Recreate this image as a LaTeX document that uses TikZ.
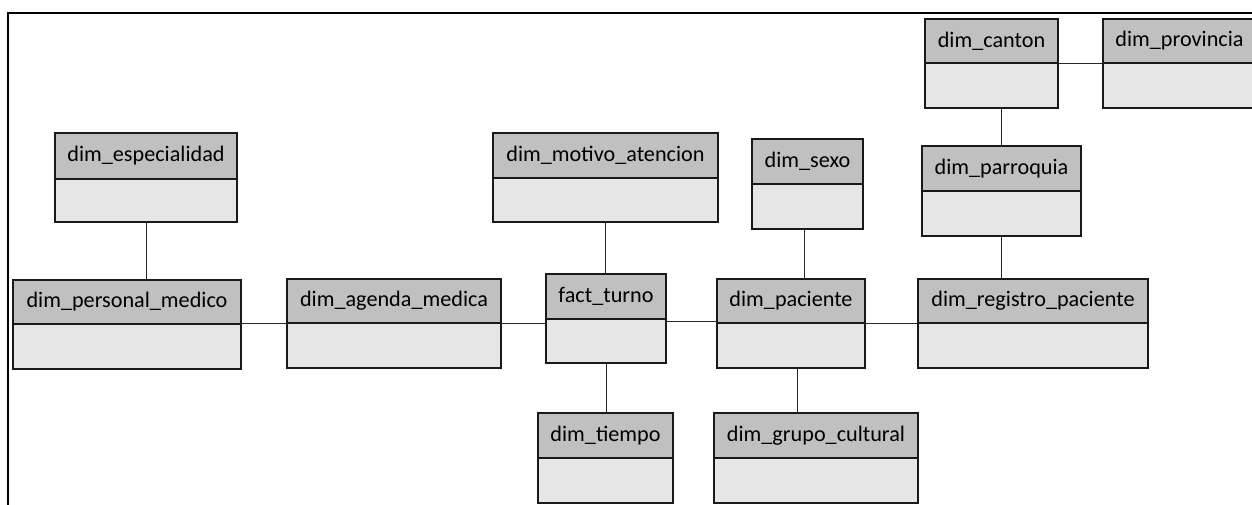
\documentclass[tikz,border=0pt]{standalone}
\usepackage{fontspec}
\setmainfont{Carlito}
\tikzset{
  hdr/.style={draw=black!90, line width=1.4pt, fill=hdrgray, inner sep=0pt, outer sep=0pt,
              font=\fontsize{22.2}{26}\selectfont},
  bdy/.style={draw=black!90, line width=1.4pt, fill=bodygray, inner sep=0pt, outer sep=0pt},
  link/.style={draw=black!85, line width=1pt},
  frame/.style={draw=black, line width=2pt}
}
\definecolor{hdrgray}{RGB}{192,192,192}
\definecolor{bodygray}{RGB}{230,230,230}
% \tablebox{name}{left}{top}{right}{header bottom}{bottom}{title}
\newcommand{\tablebox}[7]{%
  \node[hdr, anchor=north west, minimum width={(#4-#2)*1pt}, minimum height={(#5-#3)*1pt}] (#1H) at (#2,#3) {#7};
  \node[bdy, anchor=north west, minimum width={(#4-#2)*1pt}, minimum height={(#6-#5)*1pt}] (#1B) at (#2,#5) {};
}
\begin{document}
\begin{tikzpicture}[x=1pt,y=-1pt]
\useasboundingbox (0,0) rectangle (1252,504);
% outer frame (open to the right and bottom)
\draw[frame] (8,520) -- (8,13) -- (1270,13);

\tablebox{esp}{55}{133}{237}{179}{222}{dim\_especialidad}
\tablebox{pers}{13}{280}{241}{324}{369}{dim\_personal\_medico}
\tablebox{agenda}{287}{279}{501}{323}{368}{dim\_agenda\_medica}
\tablebox{motivo}{493}{133}{718}{178}{222}{dim\_motivo\_atencion}
\tablebox{fact}{546}{274}{666}{319}{363}{fact\_turno}
\tablebox{tiempo}{538}{413}{673}{458}{503}{dim\_tiempo}
\tablebox{pac}{717}{279}{865}{323}{368}{dim\_paciente}
\tablebox{grupo}{714}{413}{918}{458}{503}{dim\_grupo\_cultural}
\tablebox{sexo}{752}{139}{863}{184}{229}{dim\_sexo}
\tablebox{par}{922}{146}{1081}{191}{236}{dim\_parroquia}
\tablebox{reg}{918}{279}{1148}{323}{368}{dim\_registro\_paciente}
\tablebox{canton}{925}{19}{1058}{63}{108}{dim\_canton}
\tablebox{prov}{1103}{19}{1256}{63}{108}{dim\_provincia}

% relations
\draw[link] (espB.south) -- (espB.south |- persH.north);
\draw[link] (agendaH.south west -| persB.east) -- (agendaH.south west);
\draw[link] (agendaH.south east) -- (agendaH.south east -| factB.west);
\draw[link] (motivoB.south) -- (motivoB.south |- factH.north);
\draw[link] (factB.south) -- (factB.south |- tiempoH.north);
\draw[link] ([yshift=2pt]pacH.south west -| factB.east) -- ([yshift=2pt]pacH.south west);
\draw[link] ([xshift=-3.5pt]sexoB.south) -- ([xshift=-3.5pt]sexoB.south |- pacH.north);
\draw[link] ([xshift=6pt]pacB.south) -- ([xshift=6pt]pacB.south |- grupoH.north);
\draw[link] (pacH.south east) -- (regH.south west);
\draw[link] (parB.south) -- (parB.south |- regH.north);
\draw[link] (parH.north) -- (parH.north |- cantonB.south);
\draw[link] (cantonH.south east) -- (provH.south west);
\end{tikzpicture}
\end{document}
